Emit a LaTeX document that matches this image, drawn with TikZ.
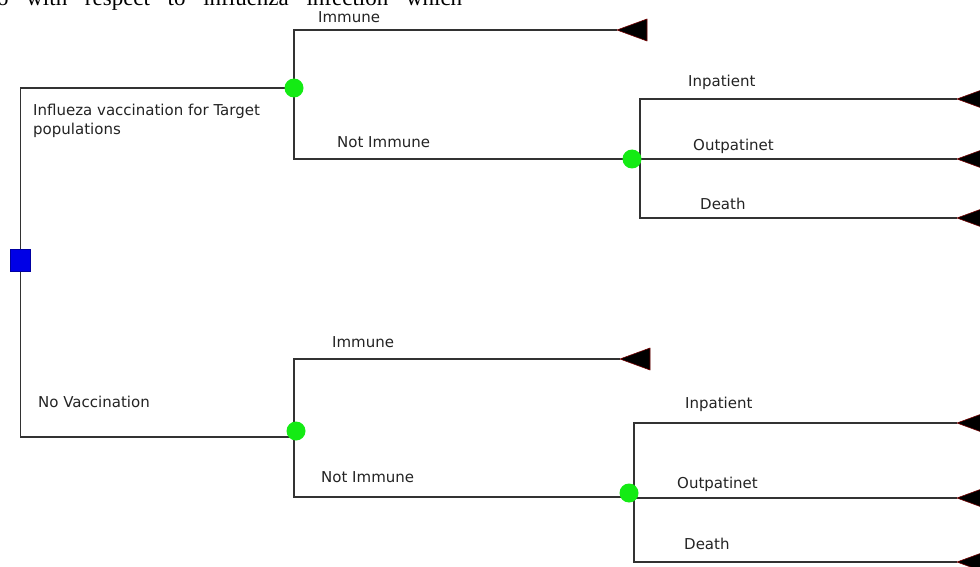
\documentclass[tikz,border=0pt]{standalone}
\usepackage{fontspec}
\setmainfont{DejaVu Sans}
\newfontfamily\serifpart{Liberation Serif}
\pgfdeclarelayer{bg}
\pgfsetlayers{bg,main}
\definecolor{chancegreen}{RGB}{20,235,20}
\definecolor{decblue}{RGB}{0,0,230}
\definecolor{linegray}{RGB}{50,50,50}
\definecolor{txtgray}{RGB}{35,35,35}
\tikzset{
  branch/.style={line width=1.3pt, draw=linegray},
  chance/.style={circle, fill=chancegreen, minimum size=19pt, inner sep=0pt},
  decision/.style={rectangle, fill=decblue, draw=decblue!70!black, line width=0.4pt, minimum width=20pt, minimum height=22pt, inner sep=0pt},
  termtri/.style={fill=black, draw=red!45!black, line width=0.6pt, line join=round},
  lbl/.style={font=\fontsize{15}{18}\selectfont, text=txtgray, anchor=base west, inner sep=0pt},
}
\begin{document}
\begin{tikzpicture}[x=1pt,y=-1pt]
\useasboundingbox (0,0) rectangle (980,567);
\clip (0,0) rectangle (980,567);

% clipped running text at the very top
\node[anchor=base west, inner sep=0pt, font=\serifpart\fontsize{23}{26}\selectfont] (toptext) at (-3,6)
  {\makebox[465pt][s]{o with respect to influenza infection which}};

% nodes
\node[decision] (d) at (20.5,260.5) {};
\node[chance] (c1) at (294,88) {};
\node[chance] (c2) at (632,159) {};
\node[chance] (c3) at (296,431) {};
\node[chance] (c4) at (629,493) {};

% junction and terminal coordinates
\coordinate (v2) at (640,159);
\coordinate (j3) at (294,437);
\coordinate (v4) at (634,497);
\coordinate (t1) at (617,30);
\coordinate (t3) at (957,99);
\coordinate (t4) at (957,159);
\coordinate (t5) at (957,218);
\coordinate (t6) at (620,359);
\coordinate (t7) at (957,423);
\coordinate (t8) at (957,498);
\coordinate (t9) at (957,562);

\begin{pgfonlayer}{bg}
  \draw[branch] (d.center) |- (c1.center);
  \draw[branch] (d.center) |- (j3);
  \draw[branch] (c1.center) |- (t1);
  \draw[branch] (c1.center) |- (v2);
  \draw[branch] (v2) |- (t3);
  \draw[branch] (v2) -- (t4);
  \draw[branch] (v2) |- (t5);
  \draw[branch] (j3) |- (t6);
  \draw[branch] (j3) |- (v4);
  \draw[branch] (v4) |- (t7);
  \draw[branch] (v4) |- (t8);
  \draw[branch] (v4) |- (t9);
\end{pgfonlayer}

% terminal triangles
\foreach \t in {t1,t3,t4,t5,t6,t7,t8,t9}{
  \filldraw[termtri] (\t) -- ++(30,-11) -- ++(0,22) -- cycle;
}

% labels
\node[lbl] (l1) at (318,23) {Immune};
\node[lbl] (l2) at (33,116) {Influeza vaccination for Target};
\node[lbl] (l3) at (33,135) {populations};
\node[lbl] (l4) at (337,148) {Not Immune};
\node[lbl] (l5) at (688,87) {Inpatient};
\node[lbl] (l6) at (693,150) {Outpatinet};
\node[lbl] (l7) at (700,209) {Death};
\node[lbl] (l8) at (332,347) {Immune};
\node[lbl] (l9) at (38,407) {No Vaccination};
\node[lbl] (l10) at (321,482) {Not Immune};
\node[lbl] (l11) at (685,408) {Inpatient};
\node[lbl] (l12) at (677,488) {Outpatinet};
\node[lbl] (l13) at (684,549) {Death};
\end{tikzpicture}
\end{document}
